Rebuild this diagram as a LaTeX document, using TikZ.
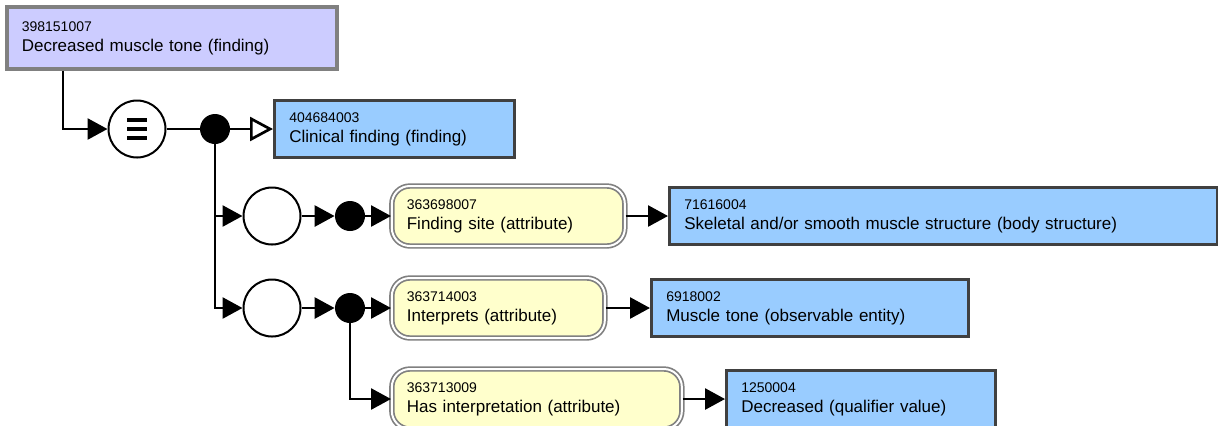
\documentclass[tikz,border=0pt]{standalone}
\usepackage{fontspec}
\setmainfont{Liberation Sans}
\usetikzlibrary{arrows.meta,positioning}
\definecolor{defblue}{RGB}{204,204,255}
\definecolor{primblue}{RGB}{153,204,255}
\definecolor{attryellow}{RGB}{255,255,204}
\newcommand{\sctid}[1]{{\fontsize{7}{8}\selectfont #1}}
\tikzset{
    fullydef/.style={
        rectangle, anchor=west,
        draw=black!50, line width=1.8pt,
        fill=defblue,
        align=left, inner xsep=7.5pt,
        minimum height=31pt,
        font=\fontsize{8.5}{10}\selectfont
    },
    concept/.style={
        rectangle, anchor=west,
        draw=black!75, line width=1.3pt,
        fill=primblue,
        align=left, inner xsep=7.5pt,
        minimum height=28.5pt,
        font=\fontsize{8.5}{10}\selectfont
    },
    % attribute boxes have a double grey border
    attribute/.style={
        rectangle, anchor=west, rounded corners=9pt,
        draw=black!50, line width=0.85pt,
        double=white, double distance=1pt,
        fill=attryellow,
        align=left, inner xsep=7.5pt,
        minimum height=30pt,
        font=\fontsize{8.5}{10}\selectfont
    },
    group/.style={circle, draw=black, line width=1pt, fill=white, minimum size=28.5pt, inner sep=0pt},
    conj/.style={circle, fill=black, minimum size=15pt, inner sep=0pt},
    plainline/.style={line width=1.35pt},
    relarrow/.style={line width=1.35pt, -{Triangle[length=10pt, width=10.5pt]}},
    isaarrow/.style={line width=1.35pt, -{Triangle[length=11.5pt, width=12pt, fill=white]}}
}

\begin{document}
\begin{tikzpicture}[x=0.5pt, y=-0.5pt]
	\useasboundingbox (0,0) rectangle (1218,425);

	\node[fullydef, text width=150pt] (fnd) at (5,38) {\sctid{398151007}\\Decreased muscle tone (finding)};

	\coordinate (k0) at (63,129);
	\node[group] (eq) at (137,129) {};
	\node[conj] (d0) at (215,129) {};
	\node[concept, text width=105pt] (clin) at (273,129) {\sctid{404684003}\\Clinical finding (finding)};

	\node[group] (c1) at (272,216) {};
	\node[conj] (d1) at (350,216) {};
	\node[attribute, text width=101.5pt] (at1) at (391,216) {\sctid{363698007}\\Finding site (attribute)};
	\node[concept, text width=259pt] (v1) at (668,216) {\sctid{71616004}\\Skeletal and/or smooth muscle structure (body structure)};

	\node[group] (c2) at (272,308) {};
	\node[conj] (d2) at (350,308) {};
	\node[attribute, text width=91.5pt] (at2) at (391,308) {\sctid{363714003}\\Interprets (attribute)};
	\node[concept, text width=143.5pt] (v2) at (650,308) {\sctid{6918002}\\Muscle tone (observable entity)};

	\node[attribute, text width=130pt] (at3) at (391,399) {\sctid{363713009}\\Has interpretation (attribute)};
	\node[concept, text width=119.5pt] (v3) at (725,399) {\sctid{1250004}\\Decreased (qualifier value)};

	% equivalence sign
	\foreach \dy in {-4.5,0,4.5}
		\draw[line width=1.6pt] ([shift={(-5pt,\dy pt)}]eq.center) -- ++(10pt,0pt);

	\draw[relarrow] (fnd.south -| k0) |- (eq);
	\draw[plainline] (eq) -- (d0);
	\draw[isaarrow] (d0) -- (clin);
	\draw[relarrow] (d0) |- (c1);
	\draw[relarrow] (d0) |- (c2);

	\draw[relarrow] (c1) -- (d1);
	\draw[relarrow] (d1) -- (at1);
	\draw[relarrow] (at1) -- (v1);

	\draw[relarrow] (c2) -- (d2);
	\draw[relarrow] (d2) -- (at2);
	\draw[relarrow] (at2) -- (v2);
	\draw[relarrow] (d2) |- (at3);
	\draw[relarrow] (at3) -- (v3);
\end{tikzpicture}
\end{document}
